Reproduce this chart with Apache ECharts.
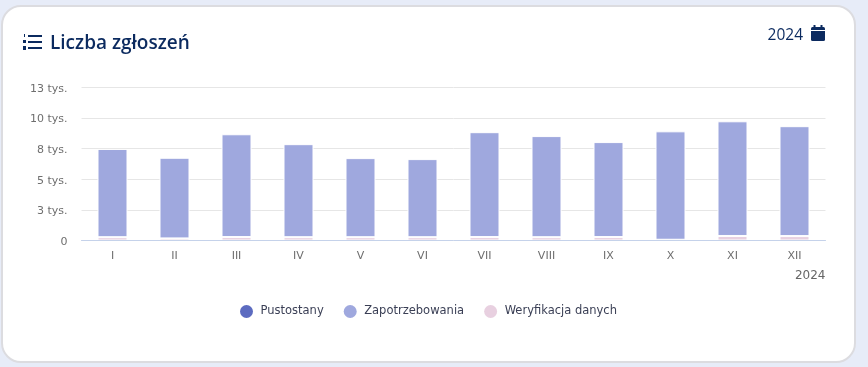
<!DOCTYPE html>
<html lang="pl">
<head>
  <meta charset="utf-8">
  <script src="https://cdn.jsdelivr.net/npm/echarts@6/dist/echarts.min.js"></script>
  <style>
    html, body { margin: 0; height: 100%; background: #e7ecf8; overflow: hidden; }
    .card { position: absolute; left: 1px; top: 5px; width: 851px; height: 354px; background: #fff;
      border: 2px solid #dcdce0; border-radius: 20px; }
    #chart { position: absolute; left: 0; top: 0; width: 868px; height: 367px; }
    .title { position: absolute; left: 23px; top: 28px; height: 28px; display: flex; align-items: center;
      font: 600 19px "Open Sans", sans-serif; color: #0b2a5f; }
    .title svg { margin-right: 8px; }
    .year { position: absolute; right: 43px; top: 23px; display: flex; align-items: center;
      font: 15.5px "Open Sans", sans-serif; color: #0b2a5f; }
    .year svg { margin-left: 8px; margin-top: -2px; }
  </style>
</head>
<body>
  <div class="card"></div>
  <div id="chart"></div>
  <div class="title">
    <svg width="19" height="16" viewBox="0 0 19 16">
      <rect x="5" y="1" width="14" height="2" fill="#0b2a5f"/>
      <rect x="5" y="7" width="14" height="2" fill="#0b2a5f"/>
      <rect x="5" y="13" width="14" height="2" fill="#0b2a5f"/>
      <rect x="1" y="0" width="1" height="3" fill="#0b2a5f"/>
      <rect x="0" y="6" width="3" height="3" fill="#0b2a5f"/>
      <rect x="0" y="12" width="3" height="4" fill="#0b2a5f"/>
    </svg>
    <span>Liczba zgłoszeń</span>
  </div>
  <div class="year">
    <span>2024</span>
    <svg width="14" height="16" viewBox="0 0 14 16">
      <rect x="2.5" y="0" width="2" height="3" fill="#0b2a5f"/>
      <rect x="9.5" y="0" width="2" height="3" fill="#0b2a5f"/>
      <rect x="0" y="2" width="14" height="14" rx="1.5" fill="#0b2a5f"/>
      <rect x="0" y="5" width="14" height="1" fill="#fff"/>
    </svg>
  </div>

  <script type="text/javascript">
    var months = ['I', 'II', 'III', 'IV', 'V', 'VI', 'VII', 'VIII', 'IX', 'X', 'XI', 'XII'];
    var pustostany = [0, 0, 0, 0, 0, 0, 0, 0, 0, 0, 0, 0];
    var zapotrzebowania = [7210, 6590, 8400, 7600, 6460, 6380, 8570, 8260, 7760, 8860, 9370, 8980];
    var weryfikacja = [270, 170, 280, 270, 270, 270, 280, 270, 280, 60, 370, 360];
    var yTicks = { 0: '0', 2500: '3 tys.', 5000: '5 tys.', 7500: '8 tys.', 10000: '10 tys.', 12500: '13 tys.' };

    var chart = echarts.init(document.getElementById('chart'));

    function barSeries(name, data, color) {
      return {
        name: name,
        type: 'bar',
        stack: 'all',
        barWidth: 30,
        data: data,
        itemStyle: { color: color, borderColor: '#fff', borderWidth: 1 }
      };
    }

    var pustostanySeries = barSeries('Pustostany', pustostany, '#5c6bc0');
    pustostanySeries.itemStyle.borderWidth = 0;

    var option = {
      animation: false,
      textStyle: { fontFamily: 'DejaVu Sans' },
      grid: { left: 81.5, right: 42.5, top: 87.5, height: 153 },
      legend: {
        bottom: 44,
        left: 235,
        icon: 'circle',
        itemWidth: 14,
        itemHeight: 13,
        itemGap: 20,
        itemStyle: { borderWidth: 0 },
        textStyle: { color: '#3a3f55', fontSize: 11.5, fontFamily: 'DejaVu Sans', padding: [0, 0, 0, 2] },
        data: ['Pustostany', 'Zapotrzebowania', 'Weryfikacja danych']
      },
      xAxis: {
        type: 'category',
        z: 3,
        data: months,
        name: '2024',
        nameLocation: 'end',
        nameGap: 0,
        nameTextStyle: { color: '#666', fontSize: 12, align: 'right', verticalAlign: 'top', padding: [29, 0, 0, 0] },
        axisTick: { show: false },
        axisLine: { lineStyle: { color: '#c5d2ea', width: 1 } },
        axisLabel: { color: '#6e6e6e', fontSize: 11, margin: 10 }
      },
      yAxis: {
        type: 'value',
        min: 0,
        max: 12500,
        interval: 2500,
        axisLabel: {
          color: '#6e6e6e',
          fontSize: 11,
          margin: 14,
          formatter: function (v) { return '{t|' + yTicks[v] + '}'; },
          rich: { t: { color: '#6e6e6e', fontSize: 11, padding: [3, 0, 0, 0] } }
        },
        splitLine: { lineStyle: { color: '#e6e6e6', width: 1 } }
      },
      series: [
        pustostanySeries,
        barSeries('Weryfikacja danych', weryfikacja, '#e8d0e0'),
        barSeries('Zapotrzebowania', zapotrzebowania, '#9fa8de')
      ]
    };
    chart.setOption(option);
  </script>
</body>
</html>
